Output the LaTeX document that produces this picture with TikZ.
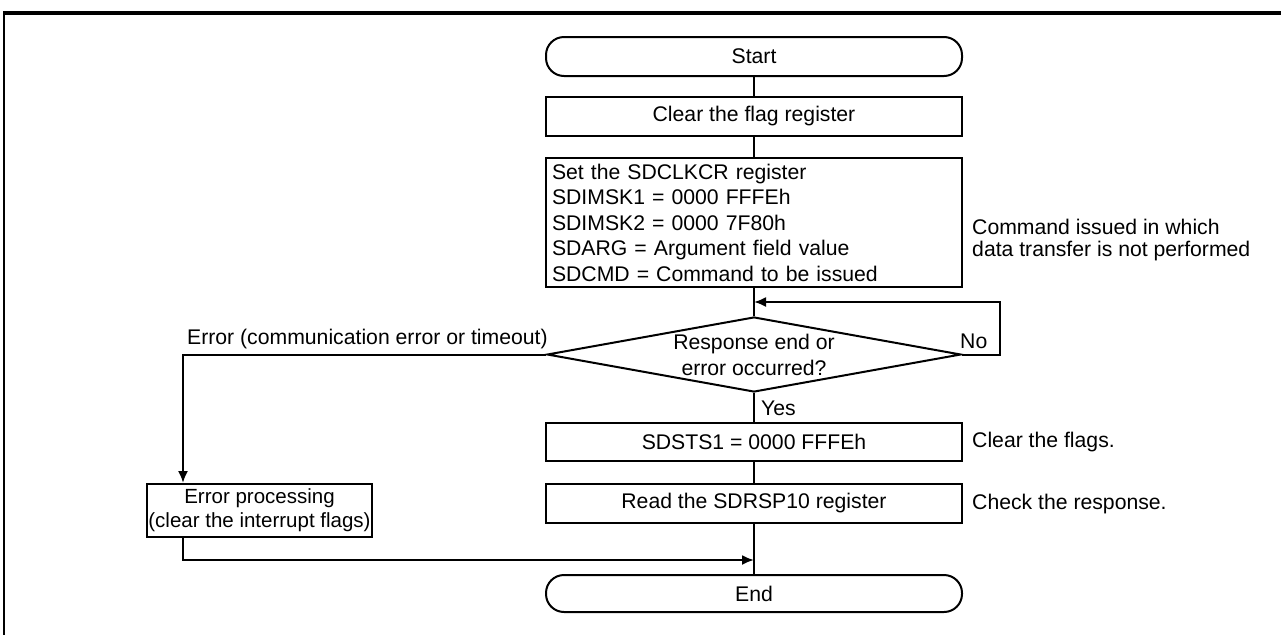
\documentclass[tikz,border=0pt]{standalone}
\usepackage{fontspec}
\setmainfont{Liberation Sans}
\usetikzlibrary{shapes.geometric,arrows.meta}
\begin{document}
\begin{tikzpicture}[x=1pt,y=-1pt,
  every node/.style={font=\fontsize{21.2}{25.5}\selectfont},
  ln/.style={line width=2pt},
  arr/.style={ln,-{Latex[length=12pt,width=10pt]}},
  box/.style={draw,ln,rectangle,minimum width=416pt,inner sep=0pt,align=center},
  term/.style={draw,ln,rectangle,rounded corners=18pt,minimum width=416pt,inner sep=0pt},
  note/.style={anchor=west,inner sep=0pt,align=left}]
\useasboundingbox (0,0) rectangle (1281,635);
% frame
\draw[line width=3.5pt] (3,13) -- (1281,13);
\draw[line width=2pt] (4,12) -- (4,635);
% nodes
\node[term,minimum height=39pt] (start) at (754,56.5) {Start};
\node[box,minimum height=39pt] (clr) at (754,116.5) {Clear the flag register};
\node[box,minimum height=129pt,text width=404pt,align=left,inner xsep=6pt] (set) at (754,222.5)
  {Set the SDCLKCR register\\SDIMSK1 = 0000 FFFEh\\SDIMSK2 = 0000 7F80h\\SDARG = Argument field value\\SDCMD = Command to be issued};
\coordinate (j1) at (754,302);
\node[draw,ln,diamond,minimum width=414pt,minimum height=75pt,inner sep=0pt] (dec) at (754,354.5) {};
\node[align=center,inner sep=0pt] (dect) at (754,355) {Response end or\\error occurred?};
\node[box,minimum height=38pt] (sts) at (754,442) {SDSTS1 = 0000 FFFEh};
\node[box,minimum height=39pt] (rd) at (754,503.5) {Read the SDRSP10 register};
\coordinate (j2) at (754,560);
\node[term,minimum height=37pt] (end) at (754,593.5) {End};
\node[draw,ln,rectangle,minimum width=225pt,minimum height=53pt,inner sep=0pt,align=center,
  font=\fontsize{20.5}{24}\selectfont] (err) at (259.5,510.5)
  {Error processing\\(clear the interrupt flags)};
% labels
\node[note] (no) at (960,341) {No};
\node[note] (yes) at (761,408) {Yes};
\node[note,anchor=west] (errl) at (187,339) {Error (communication error or timeout)};
\node[note,font=\fontsize{21.2}{22}\selectfont] (n1) at (972,240) {Command issued in which\\data transfer is not performed};
\node[note] (n2) at (972,442) {Clear the flags.};
\node[note] (n3) at (972,504) {Check the response.};
% connectors
\draw[ln] (start) -- (clr);
\draw[ln] (clr) -- (set);
\draw[ln] (set) -- (dec.north);
\draw[arr] (dec.east) -- ++(38,0) |- (j1);
\draw[ln] (dec.south) -- (sts);
\draw[ln] (sts) -- (rd);
\draw[ln] (rd) -- (end);
\draw[arr] (dec.west) -| ([xshift=-76.5pt]err.north);
\draw[arr] ([xshift=-76.5pt]err.south) |- (j2);
\end{tikzpicture}
\end{document}
